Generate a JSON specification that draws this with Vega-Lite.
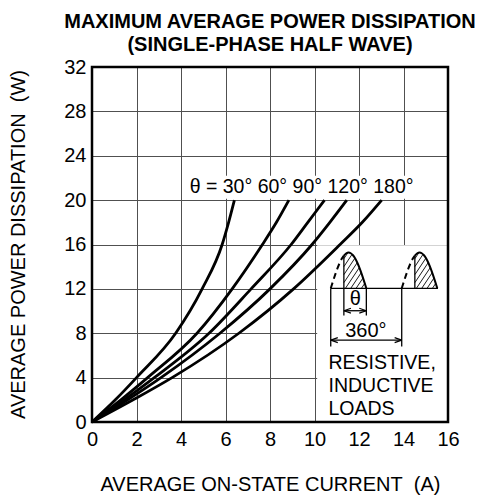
{
  "$schema": "https://vega.github.io/schema/vega-lite/v6.json",
  "width": 356,
  "height": 355,
  "autosize": {"type": "none"},
  "padding": {"left": 92, "top": 67, "right": 32, "bottom": 76},
  "background": "white",
  "title": {
    "text": ["MAXIMUM AVERAGE POWER DISSIPATION", "(SINGLE-PHASE HALF WAVE)"],
    "font": "Liberation Sans",
    "fontSize": 20,
    "fontWeight": "bold",
    "color": "black",
    "anchor": "middle",
    "frame": "group",
    "offset": 2,
    "lineHeight": 23
  },
  "config": {
    "view": {"stroke": null},
    "axis": {
      "domain": false,
      "ticks": false,
      "tickSize": 0,
      "grid": true,
      "gridColor": "#505050",
      "gridWidth": 1,
      "gridOpacity": 1,
      "labelFont": "Liberation Sans",
      "labelFontSize": 20,
      "labelColor": "black",
      "labelFlush": false,
      "labelOverlap": false,
      "titleFont": "Liberation Sans",
      "titleFontSize": 20,
      "titleFontWeight": "normal",
      "titleColor": "black"
    }
  },
  "datasets": {
    "curves": [
      {"s": "30", "x": 0, "y": 0}, {"s": "30", "x": 1.05, "y": 2}, {"s": "30", "x": 2.0, "y": 4}, {"s": "30", "x": 3.76, "y": 8}, {"s": "30", "x": 4.95, "y": 12}, {"s": "30", "x": 5.85, "y": 16}, {"s": "30", "x": 6.14, "y": 18}, {"s": "30", "x": 6.4, "y": 20},
      {"s": "60", "x": 0, "y": 0}, {"s": "60", "x": 1.3, "y": 2}, {"s": "60", "x": 2.5, "y": 4}, {"s": "60", "x": 4.72, "y": 8}, {"s": "60", "x": 6.3, "y": 12}, {"s": "60", "x": 7.66, "y": 16}, {"s": "60", "x": 8.29, "y": 18}, {"s": "60", "x": 8.85, "y": 20},
      {"s": "90", "x": 0, "y": 0}, {"s": "90", "x": 1.45, "y": 2}, {"s": "90", "x": 2.8, "y": 4}, {"s": "90", "x": 5.26, "y": 8}, {"s": "90", "x": 7.15, "y": 12}, {"s": "90", "x": 8.95, "y": 16}, {"s": "90", "x": 9.7, "y": 18}, {"s": "90", "x": 10.45, "y": 20},
      {"s": "120", "x": 0, "y": 0}, {"s": "120", "x": 1.6, "y": 2}, {"s": "120", "x": 3.1, "y": 4}, {"s": "120", "x": 5.75, "y": 8}, {"s": "120", "x": 8.0, "y": 12}, {"s": "120", "x": 9.89, "y": 16}, {"s": "120", "x": 10.69, "y": 18}, {"s": "120", "x": 11.45, "y": 20},
      {"s": "180", "x": 0, "y": 0}, {"s": "180", "x": 1.85, "y": 2}, {"s": "180", "x": 3.6, "y": 4}, {"s": "180", "x": 6.6, "y": 8}, {"s": "180", "x": 9.06, "y": 12}, {"s": "180", "x": 11.15, "y": 16}, {"s": "180", "x": 12.15, "y": 18}, {"s": "180", "x": 13.02, "y": 20}
    ],
    "blank": [
      {"x": 10.12, "x2": 16, "y": 0, "y2": 15.93},
      {"x": 4.17, "x2": 14.7, "y": 20.12, "y2": 22.2}
    ],
    "pdash": [
      {"p": "1", "x": 10.73, "y": 12.05}, {"p": "1", "x": 10.83, "y": 12.68}, {"p": "1", "x": 10.93, "y": 13.28}, {"p": "1", "x": 11.03, "y": 13.84}, {"p": "1", "x": 11.13, "y": 14.33}, {"p": "1", "x": 11.23, "y": 14.73}, {"p": "1", "x": 11.32, "y": 15.0},
      {"p": "2", "x": 13.92, "y": 12.05}, {"p": "2", "x": 14.02, "y": 12.68}, {"p": "2", "x": 14.12, "y": 13.28}, {"p": "2", "x": 14.22, "y": 13.84}, {"p": "2", "x": 14.32, "y": 14.33}, {"p": "2", "x": 14.42, "y": 14.73}, {"p": "2", "x": 14.51, "y": 15.0}
    ],
    "psolid": [
      {"p": "1", "x": 11.32, "y": 15.0}, {"p": "1", "x": 11.43, "y": 15.21}, {"p": "1", "x": 11.53, "y": 15.27}, {"p": "1", "x": 11.63, "y": 15.21}, {"p": "1", "x": 11.73, "y": 15.03}, {"p": "1", "x": 11.83, "y": 14.73}, {"p": "1", "x": 11.93, "y": 14.33}, {"p": "1", "x": 12.03, "y": 13.84}, {"p": "1", "x": 12.13, "y": 13.28}, {"p": "1", "x": 12.23, "y": 12.68}, {"p": "1", "x": 12.33, "y": 12.05},
      {"p": "2", "x": 14.51, "y": 15.0}, {"p": "2", "x": 14.62, "y": 15.21}, {"p": "2", "x": 14.72, "y": 15.27}, {"p": "2", "x": 14.82, "y": 15.21}, {"p": "2", "x": 14.92, "y": 15.03}, {"p": "2", "x": 15.02, "y": 14.73}, {"p": "2", "x": 15.12, "y": 14.33}, {"p": "2", "x": 15.22, "y": 13.84}, {"p": "2", "x": 15.32, "y": 13.28}, {"p": "2", "x": 15.42, "y": 12.68}, {"p": "2", "x": 15.52, "y": 12.05}
    ],
    "thin": [
      {"x": 10.73, "x2": 15.55, "y": 12.05, "y2": 12.05},
      {"x": 10.73, "x2": 10.73, "y": 12.05, "y2": 6.8},
      {"x": 11.32, "x2": 11.32, "y": 15.0, "y2": 9.6},
      {"x": 12.33, "x2": 12.33, "y": 12.05, "y2": 9.6},
      {"x": 13.92, "x2": 13.92, "y": 12.05, "y2": 6.8},
      {"x": 14.51, "x2": 14.51, "y": 12.05, "y2": 15.0},
      {"x": 11.32, "x2": 12.33, "y": 10.03, "y2": 10.03},
      {"x": 10.73, "x2": 13.92, "y": 7.38, "y2": 7.38}
    ],
    "hatch": [
      {"x": 11.32, "y": 14.72, "x2": 11.505, "y2": 15.27},
      {"x": 11.32, "y": 14.0, "x2": 11.687, "y2": 15.11},
      {"x": 11.32, "y": 13.28, "x2": 11.817, "y2": 14.77},
      {"x": 11.32, "y": 12.56, "x2": 11.923, "y2": 14.37},
      {"x": 11.39, "y": 12.05, "x2": 12.015, "y2": 13.92},
      {"x": 11.63, "y": 12.05, "x2": 12.1, "y2": 13.46},
      {"x": 11.87, "y": 12.05, "x2": 12.18, "y2": 12.98},
      {"x": 12.11, "y": 12.05, "x2": 12.26, "y2": 12.5},
      {"x": 14.51, "y": 14.72, "x2": 14.695, "y2": 15.27},
      {"x": 14.51, "y": 14.0, "x2": 14.877, "y2": 15.11},
      {"x": 14.51, "y": 13.28, "x2": 15.007, "y2": 14.77},
      {"x": 14.51, "y": 12.56, "x2": 15.113, "y2": 14.37},
      {"x": 14.58, "y": 12.05, "x2": 15.205, "y2": 13.92},
      {"x": 14.82, "y": 12.05, "x2": 15.29, "y2": 13.46},
      {"x": 15.06, "y": 12.05, "x2": 15.37, "y2": 12.98},
      {"x": 15.3, "y": 12.05, "x2": 15.45, "y2": 12.5}
    ],
    "headL": [{"x": 11.48, "y": 10.03}, {"x": 10.89, "y": 7.38}],
    "headR": [{"x": 12.17, "y": 10.03}, {"x": 13.76, "y": 7.38}],
    "textLeft": [
      {"x": 4.39, "y": 20.63, "t": "θ = 30° 60° 90° 120° 180°"},
      {"x": 10.63, "y": 4.8, "t": "RESISTIVE,"},
      {"x": 10.63, "y": 2.7, "t": "INDUCTIVE"},
      {"x": 10.63, "y": 0.6, "t": "LOADS"}
    ],
    "textCenter": [
      {"x": 11.83, "y": 10.55, "t": "θ"},
      {"x": 12.31, "y": 7.68, "t": "360°"}
    ],
    "frame": [{"x": 0, "x2": 16, "y": 0, "y2": 32}]
  },
  "encoding": {
    "x": {
      "field": "x",
      "type": "quantitative",
      "scale": {"domain": [0, 16], "nice": false, "zero": false},
      "axis": {
        "title": "AVERAGE ON-STATE CURRENT\u00a0 (A)",
        "values": [0, 2, 4, 6, 8, 10, 12, 14, 16],
        "labelPadding": 7,
        "titleX": 178,
        "titleY": 68,
        "titleAlign": "center",
        "titleBaseline": "alphabetic"
      }
    },
    "y": {
      "field": "y",
      "type": "quantitative",
      "scale": {"domain": [0, 32], "nice": false, "zero": false},
      "axis": {
        "title": "AVERAGE POWER DISSIPATION\u00a0 (W)",
        "values": [0, 4, 8, 12, 16, 20, 24, 28, 32],
        "labelPadding": 6,
        "titleX": -68,
        "titleY": 177,
        "titleAngle": -90,
        "titleAlign": "center",
        "titleBaseline": "alphabetic"
      }
    }
  },
  "layer": [
    {
      "data": {"name": "blank"},
      "mark": {"type": "rect", "fill": "white", "stroke": null},
      "encoding": {"x2": {"field": "x2"}, "y2": {"field": "y2"}}
    },
    {
      "data": {"name": "curves"},
      "mark": {"type": "line", "color": "black", "strokeWidth": 2.8, "interpolate": "monotone"},
      "encoding": {"detail": {"field": "s"}}
    },
    {
      "data": {"name": "thin"},
      "mark": {"type": "rule", "color": "black", "strokeWidth": 1.3},
      "encoding": {"x2": {"field": "x2"}, "y2": {"field": "y2"}}
    },
    {
      "data": {"name": "hatch"},
      "mark": {"type": "rule", "color": "black", "strokeWidth": 0.9},
      "encoding": {"x2": {"field": "x2"}, "y2": {"field": "y2"}}
    },
    {
      "data": {"name": "pdash"},
      "mark": {"type": "line", "color": "black", "strokeWidth": 2, "strokeDash": [6, 4], "interpolate": "monotone"},
      "encoding": {"detail": {"field": "p"}}
    },
    {
      "data": {"name": "psolid"},
      "mark": {"type": "line", "color": "black", "strokeWidth": 2, "interpolate": "monotone"},
      "encoding": {"detail": {"field": "p"}}
    },
    {
      "data": {"name": "headL"},
      "mark": {"type": "point", "shape": "M-1,0L1,-0.7M-1,0L1,0.7", "filled": false, "stroke": "black", "strokeWidth": 1.2, "size": 49, "opacity": 1}
    },
    {
      "data": {"name": "headR"},
      "mark": {"type": "point", "shape": "M1,0L-1,-0.7M1,0L-1,0.7", "filled": false, "stroke": "black", "strokeWidth": 1.2, "size": 49, "opacity": 1}
    },
    {
      "data": {"name": "textLeft"},
      "mark": {"type": "text", "align": "left", "baseline": "alphabetic", "font": "Liberation Sans", "fontSize": 19.5, "color": "black"},
      "encoding": {"text": {"field": "t"}}
    },
    {
      "data": {"name": "textCenter"},
      "mark": {"type": "text", "align": "center", "baseline": "alphabetic", "font": "Liberation Sans", "fontSize": 20, "color": "black"},
      "encoding": {"text": {"field": "t"}}
    },
    {
      "data": {"name": "frame"},
      "mark": {"type": "rect", "fill": null, "fillOpacity": 0, "stroke": "black", "strokeWidth": 2.5},
      "encoding": {"x2": {"field": "x2"}, "y2": {"field": "y2"}}
    }
  ]
}
